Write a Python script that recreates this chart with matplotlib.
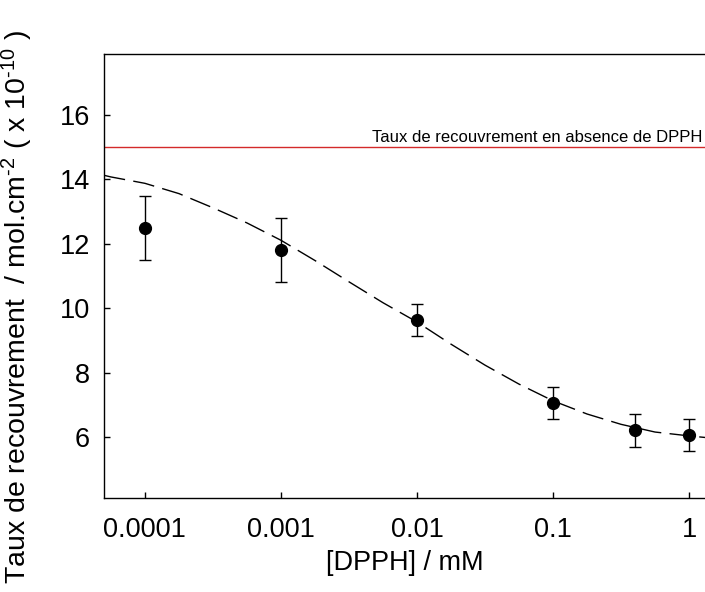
import matplotlib.pyplot as plt

plt.rcParams['font.family'] = ['Liberation Sans', 'DejaVu Sans']
plt.rcParams['mathtext.fontset'] = 'custom'
plt.rcParams['mathtext.rm'] = 'Liberation Sans'
plt.rcParams['mathtext.default'] = 'regular'

# Mesures : concentration de DPPH (mM), taux de recouvrement (x 1e-10 mol/cm2)
conc = [0.0001, 0.001, 0.01, 0.1, 0.4, 1.0]
taux = [12.5, 11.8, 9.63, 7.05, 6.2, 6.05]
erreur = [1.0, 1.0, 0.5, 0.5, 0.5, 0.5]

# Courbe d'ajustement
conc_fit = [5.0e-5, 5.6e-5, 1.0e-4, 1.78e-4, 3.16e-4, 5.62e-4, 1.0e-3,
            1.78e-3, 3.16e-3, 5.62e-3, 1.0e-2, 1.78e-2, 3.16e-2, 5.62e-2,
            0.1, 0.178, 0.316, 0.562, 1.0, 1.32]
taux_fit = [14.13, 14.08, 13.88, 13.56, 13.12, 12.65, 12.11, 11.48, 10.82,
            10.17, 9.57, 8.88, 8.23, 7.64, 7.12, 6.71, 6.39, 6.15, 6.03, 5.98]

# Taux de recouvrement sans DPPH
taux_ref = 15.0

fig = plt.figure(figsize=(7.05, 5.92), dpi=100)
ax = fig.add_axes([0.1475, 0.1588, 0.8525, 0.75])

ax.axhline(taux_ref, color='#d42a2a', lw=1.0)
ax.text(0.995, taux_ref + 0.17, "Taux de recouvrement en absence de DPPH",
        transform=ax.get_yaxis_transform(), ha='right', va='baseline',
        fontsize=12, color='black')

ax.plot(conc_fit, taux_fit, color='black', lw=1.0, dashes=(15.5, 6))
ax.errorbar(conc, taux, yerr=erreur, fmt='o', color='black', ms=8.5,
            ecolor='black', elinewidth=1.0, capsize=4.5, capthick=1.0)

ax.set_xscale('log')
ax.set_xlim(5.0e-5, 1.31)
ax.set_ylim(4.1, 17.9)
ax.set_xticks([0.0001, 0.001, 0.01, 0.1, 1])
ax.set_xticklabels(['0.0001', '0.001', '0.01', '0.1', '1'])
ax.minorticks_off()
ax.set_yticks([6, 8, 10, 12, 14, 16])

ax.spines['right'].set_visible(False)
for s in ['left', 'bottom', 'top']:
    ax.spines[s].set_linewidth(1.0)
ax.tick_params(direction='in', length=4, width=1.0, labelsize=19.5,
               top=False, right=False)
ax.tick_params(axis='x', pad=14)
ax.tick_params(axis='y', pad=10)

ax.set_xlabel("[DPPH] / mM", fontsize=19.5, labelpad=5)
ax.set_ylabel(r"Taux de recouvrement  / mol.cm$^{\text{-2}}$ ( x 10$^{\text{-10}}$ )",
              fontsize=20.5)
ax.yaxis.set_label_coords(-0.115, 0.43)

fig.savefig("out.png", dpi=100)
